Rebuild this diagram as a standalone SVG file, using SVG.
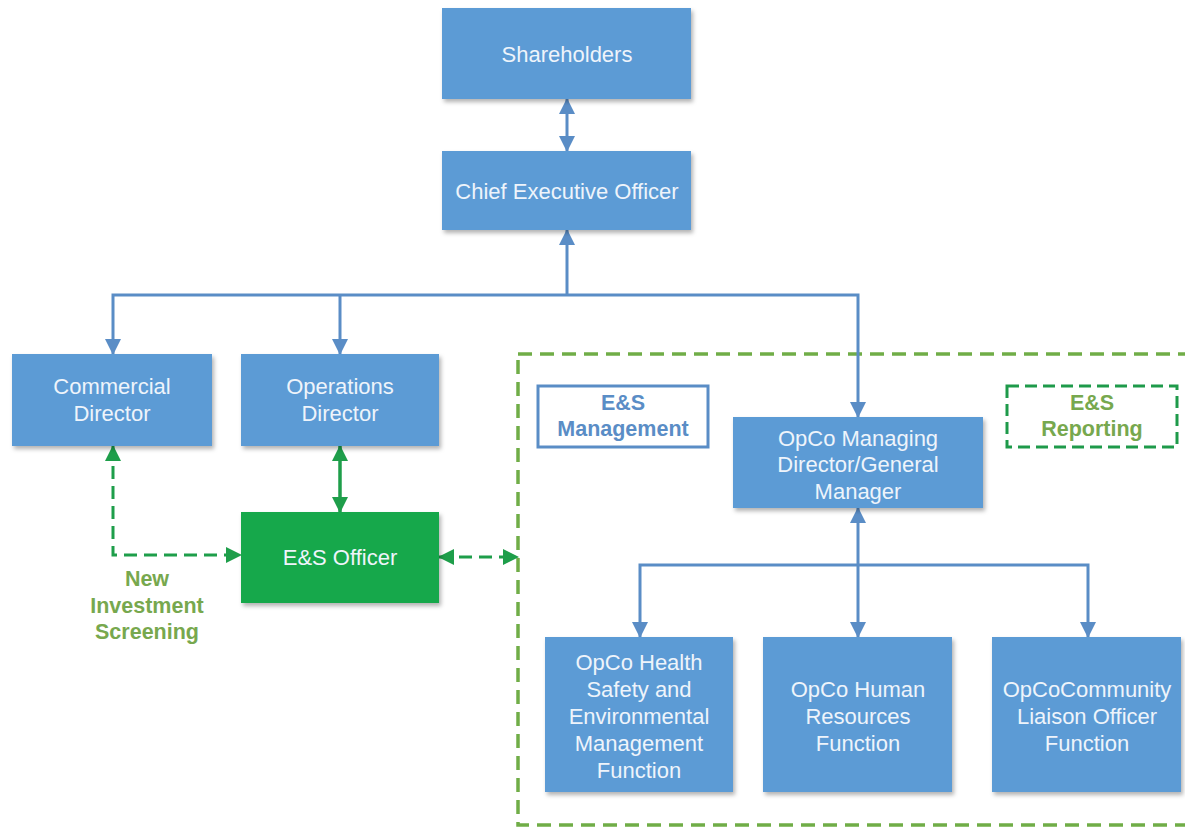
<svg xmlns="http://www.w3.org/2000/svg" width="1185" height="827" viewBox="0 0 1185 827">
<defs>
<style>
.box{fill:#5B9BD5;}
.green{fill:#12A84B;}
.t{font-family:"Liberation Sans",Arial,sans-serif;font-size:22px;fill:#EEF4FB;text-anchor:middle;}
.lb{font-family:"Liberation Sans",Arial,sans-serif;font-size:21.5px;font-weight:bold;text-anchor:middle;}
.blue{stroke:#5A8DC6;stroke-width:3;fill:none;}
.gsolid{stroke:#1E9E4A;stroke-width:3.5;fill:none;}
.gdash{stroke:#1E9E4A;stroke-width:3;fill:none;stroke-dasharray:13 7;}
</style>
<filter id="sh" x="-10%" y="-10%" width="130%" height="130%">
<feDropShadow dx="2" dy="3" stdDeviation="2" flood-color="#000" flood-opacity="0.3"/>
</filter>
<marker id="ab" markerUnits="userSpaceOnUse" markerWidth="16" markerHeight="16" refX="15" refY="8" orient="auto-start-reverse" viewBox="0 0 16 16">
<path d="M0,0 L16,8 L0,16 z" fill="#5A8DC6"/>
</marker>
<marker id="ag" markerUnits="userSpaceOnUse" markerWidth="16" markerHeight="16" refX="15" refY="8" orient="auto-start-reverse" viewBox="0 0 16 16">
<path d="M0,0 L16,8 L0,16 z" fill="#1E9E4A"/>
</marker>
</defs>
<rect width="1185" height="827" fill="#FFFFFF"/>

<g id="container">
<rect x="518" y="354" width="672" height="471" fill="none" stroke="#70AD47" stroke-width="3.5" stroke-dasharray="14 8"/>
</g>

<g id="connectors">
<line class="blue" x1="567" y1="99" x2="567" y2="151" stroke-width="4" marker-start="url(#ab)" marker-end="url(#ab)"/>
<path class="blue" d="M567,295 L567,230" marker-end="url(#ab)"/>
<path class="blue" d="M113,354 L113,295 L858,295 L858,417" marker-start="url(#ab)" marker-end="url(#ab)"/>
<path class="blue" d="M340,295 L340,354" marker-end="url(#ab)"/>
<path class="blue" d="M858,637 L858,508" marker-start="url(#ab)" marker-end="url(#ab)"/>
<path class="blue" d="M640,637 L640,565 L1088,565 L1088,637" marker-start="url(#ab)" marker-end="url(#ab)"/>
<line class="gsolid" x1="340" y1="446" x2="340" y2="512" marker-start="url(#ag)" marker-end="url(#ag)"/>
<path class="gdash" d="M113,446 L113,555 L241,555" marker-start="url(#ag)" marker-end="url(#ag)"/>
<line class="gdash" x1="439" y1="557" x2="518" y2="557" marker-start="url(#ag)" marker-end="url(#ag)"/>
</g>

<g id="shareholders">
<rect class="box" x="442" y="8" width="249" height="91" filter="url(#sh)"/>
<text class="t" x="567" y="62">Shareholders</text>
</g>

<g id="ceo">
<rect class="box" x="442" y="151" width="249" height="79" filter="url(#sh)"/>
<text class="t" x="567" y="199">Chief  Executive Officer</text>
</g>

<g id="commercial">
<rect class="box" x="12" y="354" width="200" height="92" filter="url(#sh)"/>
<text class="t" x="112" y="394">Commercial</text>
<text class="t" x="112" y="421">Director</text>
</g>

<g id="operations">
<rect class="box" x="241" y="354" width="198" height="92" filter="url(#sh)"/>
<text class="t" x="340" y="394">Operations</text>
<text class="t" x="340" y="421">Director</text>
</g>

<g id="es-officer">
<rect class="green" x="241" y="512" width="198" height="91" filter="url(#sh)"/>
<text class="t" x="340" y="565">E&amp;S Officer</text>
</g>

<g id="new-investment">
<text class="lb" x="147" y="586" fill="#77A84E">New</text>
<text class="lb" x="147" y="613" fill="#77A84E">Investment</text>
<text class="lb" x="147" y="639" fill="#77A84E">Screening</text>
</g>

<g id="es-management">
<rect x="538" y="386" width="170" height="61" fill="#FFFFFF" stroke="#5A8DC6" stroke-width="3"/>
<text class="lb" x="623" y="410" fill="#5A8DC6">E&amp;S</text>
<text class="lb" x="623" y="436" fill="#5A8DC6">Management</text>
</g>

<g id="es-reporting">
<rect x="1007" y="386" width="170" height="61" fill="none" stroke="#1E9A4A" stroke-width="3" stroke-dasharray="12 6"/>
<text class="lb" x="1092" y="410" fill="#77A84E">E&amp;S</text>
<text class="lb" x="1092" y="436" fill="#77A84E">Reporting</text>
</g>

<g id="opco-md">
<rect class="box" x="733" y="417" width="250" height="91" filter="url(#sh)"/>
<text class="t" x="858" y="446">OpCo Managing</text>
<text class="t" x="858" y="472">Director/General</text>
<text class="t" x="858" y="499">Manager</text>
</g>

<g id="opco-hse">
<rect class="box" x="545" y="637" width="188" height="155" filter="url(#sh)"/>
<text class="t" x="639" y="670">OpCo Health</text>
<text class="t" x="639" y="697">Safety and</text>
<text class="t" x="639" y="724">Environmental</text>
<text class="t" x="639" y="751">Management</text>
<text class="t" x="639" y="778">Function</text>
</g>

<g id="opco-hr">
<rect class="box" x="763" y="637" width="189" height="155" filter="url(#sh)"/>
<text class="t" x="858" y="697">OpCo Human</text>
<text class="t" x="858" y="724">Resources</text>
<text class="t" x="858" y="751">Function</text>
</g>

<g id="opco-community">
<rect class="box" x="992" y="637" width="189" height="155" filter="url(#sh)"/>
<text class="t" x="1087" y="697">OpCoCommunity</text>
<text class="t" x="1087" y="724">Liaison Officer</text>
<text class="t" x="1087" y="751">Function</text>
</g>
</svg>
